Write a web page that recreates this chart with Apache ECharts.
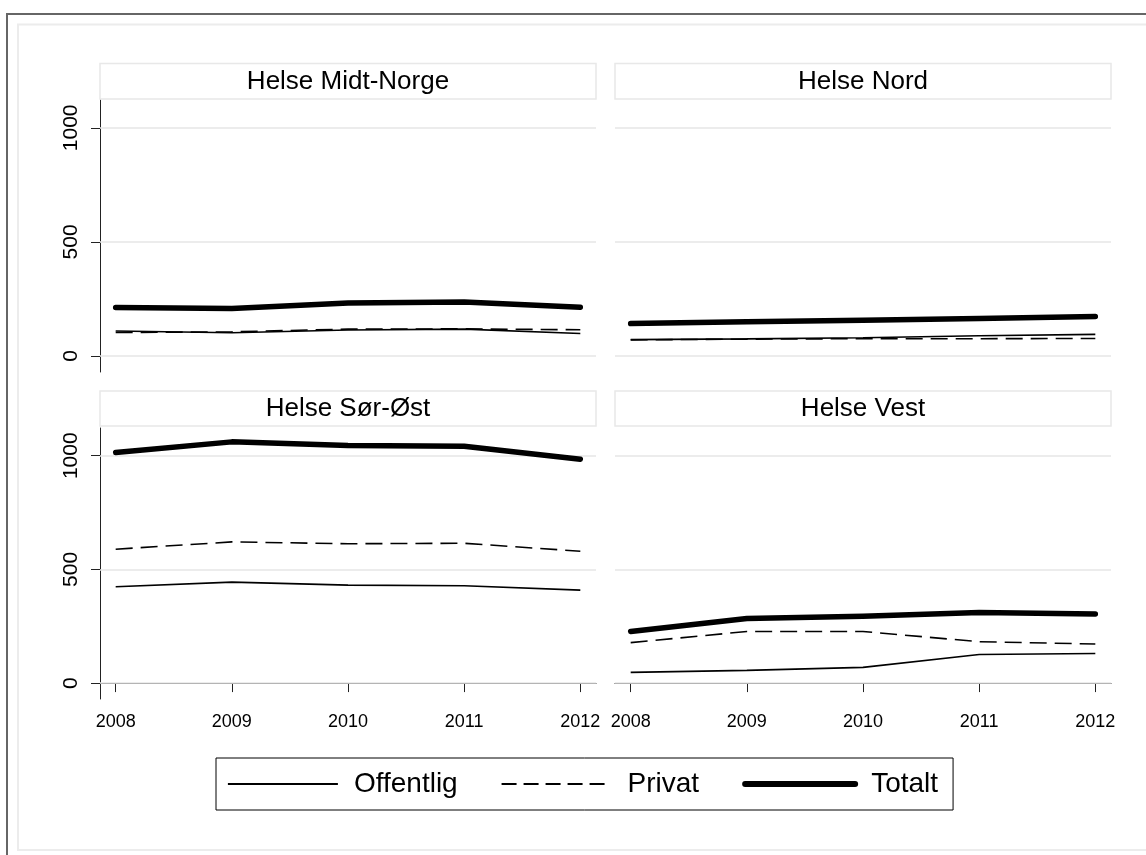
<!DOCTYPE html>
<html><head><meta charset="utf-8">
<script src="https://cdn.jsdelivr.net/npm/echarts@6/dist/echarts.min.js"></script>
<style>html,body{margin:0;padding:0;background:#fff}#c{width:1146px;height:855px}</style>
</head><body><div id="c"></div>
<script>
// ---- data ----
const years = [2008, 2009, 2010, 2011, 2012];
const regions = ['Helse Midt-Norge', 'Helse Nord', 'Helse Sør-Øst', 'Helse Vest'];
const seriesNames = ['Offentlig', 'Privat', 'Totalt'];
const yTickValues = [0, 500, 1000];

const midtOffentlig = [110, 102, 114, 118, 99];
const midtPrivat    = [103, 106, 118, 119, 115];
const midtTotalt    = [213, 208, 232, 237, 214];

const nordOffentlig = [72, 75, 80, 89, 95];
const nordPrivat    = [71, 74, 76, 76, 77];
const nordTotalt    = [142, 150, 157, 164, 173];

const sorOffentlig  = [424, 444, 431, 428, 409];
const sorPrivat     = [589, 621, 613, 615, 580];
const sorTotalt     = [1014, 1061, 1045, 1042, 985];

const vestOffentlig = [47, 56, 69, 126, 130];
const vestPrivat    = [178, 227, 227, 182, 172];
const vestTotalt    = [227, 284, 294, 310, 304];

const panelData = [
  [midtOffentlig, midtPrivat, midtTotalt],
  [nordOffentlig, nordPrivat, nordTotalt],
  [sorOffentlig, sorPrivat, sorTotalt],
  [vestOffentlig, vestPrivat, vestTotalt]
];

// ---- layout / style ----
const FONT = "'Liberation Sans', Arial, Helvetica, sans-serif";
const panels = [
  {left: 100, top: 100, width: 496, height: 272, showX: false, showY: true},
  {left: 615, top: 100, width: 496, height: 272, showX: false, showY: false},
  {left: 100, top: 428, width: 496, height: 271, showX: true,  showY: true},
  {left: 615, top: 428, width: 496, height: 271, showX: true,  showY: false}
];
const stripBoxes = [
  {x: 100, y: 63.5, w: 496, h: 35.5},
  {x: 615, y: 63.5, w: 496, h: 35.5},
  {x: 100, y: 391,  w: 496, h: 35},
  {x: 615, y: 391,  w: 496, h: 35}
];
const lineStyles = [
  {color: '#000', width: 1.6, type: 'solid'},
  {color: '#000', width: 1.6, type: [17, 8]},
  {color: '#000', width: 5.5, type: 'solid', cap: 'round', join: 'round'}
];
const legendLineStyles = [
  {color: '#000', width: 1.8, type: 'solid'},
  {color: '#000', width: 1.8, type: [15, 7]},
  {color: '#000', width: 6, type: 'solid', cap: 'round', join: 'round'}
];
const axisColor = '#222';

const grid = [], xAxis = [], yAxis = [], series = [], title = [], graphic = [];

graphic.push({type: 'rect', shape: {x: 7, y: 14, width: 1300, height: 1000},
  style: {fill: 'none', stroke: '#666', lineWidth: 2}, silent: true, z: 0});
graphic.push({type: 'rect', shape: {x: 18, y: 24.5, width: 1300, height: 825.5},
  style: {fill: 'none', stroke: '#ececec', lineWidth: 2}, silent: true, z: 0});

panels.forEach((p, i) => {
  grid.push({left: p.left, top: p.top, width: p.width, height: p.height, containLabel: false});
  xAxis.push({
    type: 'value', gridIndex: i, min: 2007.865, max: 2012.135,
    axisLine: {show: p.showX, lineStyle: {color: axisColor, width: 1}},
    axisTick: {show: p.showX, length: 9, lineStyle: {color: axisColor}, customValues: years},
    axisLabel: {show: p.showX, customValues: years, fontSize: 18, fontFamily: FONT, color: '#000', margin: 14,
      formatter: v => String(v)},
    splitLine: {show: false}
  });
  yAxis.push({
    type: 'value', gridIndex: i, min: -70, max: 1122,
    axisLine: {show: p.showY, lineStyle: {color: axisColor, width: 1}},
    axisTick: {show: p.showY, length: 9, lineStyle: {color: axisColor}, customValues: yTickValues},
    axisLabel: {show: p.showY, customValues: yTickValues, rotate: 90, fontSize: 21, fontFamily: FONT,
      color: '#000', margin: 18, formatter: v => String(v)},
    splitLine: {show: false}
  });
  // gridlines at tick values
  series.push({
    name: 'grid' + i, type: 'line', xAxisIndex: i, yAxisIndex: i, data: [], z: 1,
    silent: true, animation: false,
    markLine: {
      silent: true, symbol: ['none', 'none'], animation: false, z: 1,
      label: {show: false},
      lineStyle: {color: '#e6e6e6', width: 1.6, type: 'solid'},
      emphasis: {disabled: true},
      data: yTickValues.map(v => ({yAxis: v}))
    }
  });
  seriesNames.forEach((name, k) => {
    series.push({
      name: name, type: 'line', xAxisIndex: i, yAxisIndex: i,
      data: years.map((yr, j) => [yr, panelData[i][k][j]]),
      symbol: 'none', showSymbol: false, animation: false, z: 3 + k,
      lineStyle: lineStyles[k], color: '#000',
      emphasis: {disabled: true}
    });
  });
  const b = stripBoxes[i];
  graphic.push({type: 'rect', shape: {x: b.x, y: b.y, width: b.w, height: b.h},
    style: {fill: '#fff', stroke: '#e8e8e8', lineWidth: 1.5}, silent: true, z: 1});
  title.push({
    text: regions[i], left: b.x + b.w / 2, top: b.y + b.h / 2 + 0.5, padding: 0,
    textAlign: 'center', textVerticalAlign: 'middle',
    textStyle: {fontSize: 26, fontWeight: 'normal', fontFamily: FONT, color: '#000'}
  });
});

const chart = echarts.init(document.getElementById('c'), null, {renderer: 'canvas'});
chart.setOption({
  backgroundColor: '#fff',
  animation: false,
  title, grid, xAxis, yAxis, series, graphic,
  legend: {
    left: 216, top: 758, orient: 'horizontal', selectedMode: false,
    itemWidth: 110, itemHeight: 30, itemGap: 43,
    padding: [12, 15, 12, 11],
    borderColor: '#000', borderWidth: 1,
    textStyle: {fontSize: 28, fontFamily: FONT, color: '#000', padding: [0, 0, 0, 11]},
    data: seriesNames.map((n, k) => ({name: n,
      lineStyle: Object.assign({}, legendLineStyles[k]),
      itemStyle: {color: '#000', opacity: 0, borderWidth: 0}}))
  }
});
</script></body></html>
